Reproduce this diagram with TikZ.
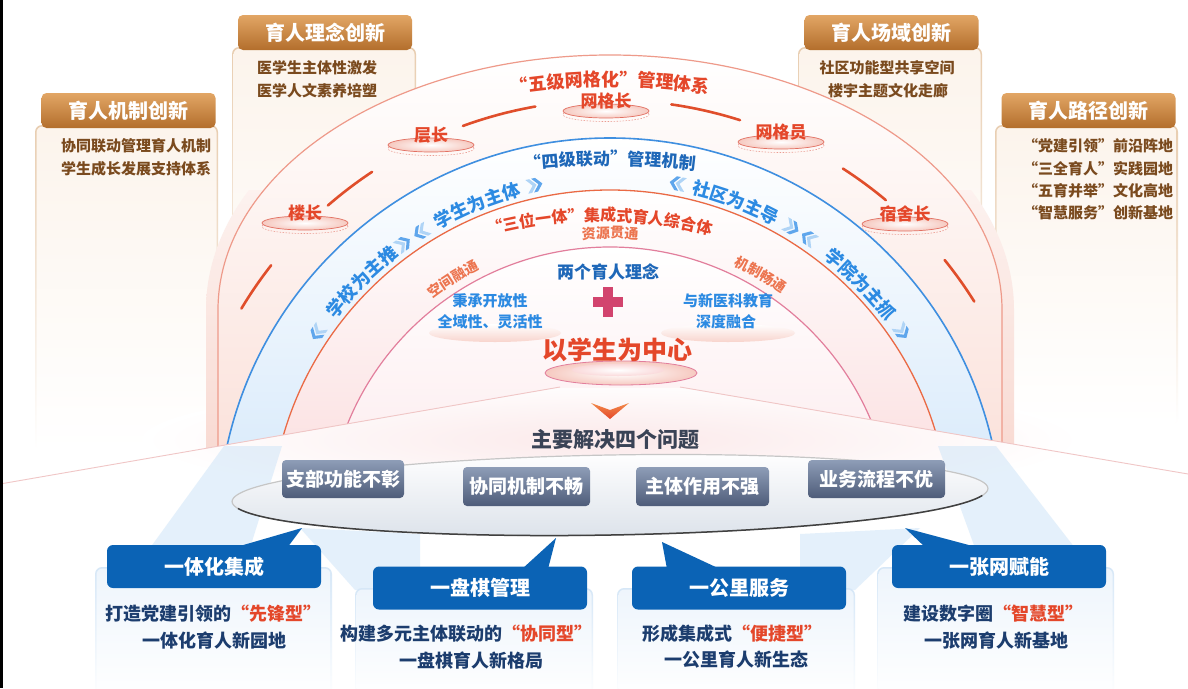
\documentclass[tikz,border=0pt]{standalone}
\usepackage{fontspec}
\setmainfont{Noto Sans CJK SC}
\usetikzlibrary{decorations.text}
\definecolor{brownA}{HTML}{E2A665}
\definecolor{brownB}{HTML}{B36E2C}
\definecolor{brownT}{HTML}{7A4A1E}
\definecolor{cardEdgeB}{HTML}{E8CDB0}
\definecolor{cardFillB}{HTML}{FCF4EC}
\definecolor{redT}{HTML}{E4472A}
\definecolor{orT}{HTML}{EC7550}
\definecolor{blueT}{HTML}{2C8AE2}
\definecolor{blueD}{HTML}{1E67B8}
\definecolor{navyT}{HTML}{1C3D6E}
\definecolor{hdrBlue}{HTML}{0B63B5}
\definecolor{cardEdgeL}{HTML}{D6E7F7}
\definecolor{cardFillL}{HTML}{EEF5FC}
\definecolor{slateA}{HTML}{8E9DB7}
\definecolor{slateB}{HTML}{4E5C79}
\definecolor{crossC}{HTML}{D2446E}
\definecolor{arcRed}{HTML}{EE9A8A}
\definecolor{arcBlue}{HTML}{3F8FE0}
\definecolor{arcOr}{HTML}{EA6A45}
\definecolor{arcMag}{HTML}{E27E9C}
\definecolor{dashC}{HTML}{E04E2B}
\definecolor{darkT}{HTML}{3A4356}
\definecolor{padFill}{HTML}{F6C9C0}
\definecolor{padEdge}{HTML}{E27062}
\definecolor{glowP}{HTML}{F7D3CA}
\definecolor{bandP}{HTML}{FADCD4}
\definecolor{bandB}{HTML}{D3E7FA}
\definecolor{bandR}{HTML}{FAD9DA}
\definecolor{bandI}{HTML}{FCE7EA}
\definecolor{chevC}{HTML}{5FA6EC}
\definecolor{chevL}{HTML}{AFD4F6}
\definecolor{beamC}{HTML}{CFE5F8}
\definecolor{stageP}{HTML}{FBE9EA}
\definecolor{ellB}{HTML}{DCE2EA}
\definecolor{floorC}{HTML}{F0C6C6}
\definecolor{chevA}{HTML}{F28A4A}

\newcommand\semiband[4]{%
  \shade[top color=#3,bottom color=#4,even odd rule]
   (610-#2,-530) arc[start angle=180,end angle=0,radius=#2] -- cycle
   (610-#1,-530) arc[start angle=180,end angle=0,radius=#1] -- cycle;}
\newcommand\arctext[6]{% cx, cy, r, angle, format, text
  \pgfmathsetmacro\myaA{#4+30}%
  \pgfmathsetmacro\myaB{#4-30}%
  \path[decorate,decoration={text along path,text align=center,text={|#5|#6}}]
    ([shift={(#1,#2)}]\myaA:#3) arc[start angle=\myaA,end angle=\myaB,radius=#3];}
\newcommand\topcard[4]{%
  \shade[rounded corners=7pt, top color=cardEdgeB, bottom color=white] (#1,-#2) rectangle (#3,-#4);
  \shade[rounded corners=6pt, top color=cardFillB, bottom color=white] (#1+1.5,-#2-1.5) rectangle (#3-1.5,-#4);}
\newcommand\botcard[4]{%
  \shade[rounded corners=7pt, top color=cardEdgeL, bottom color=white] (#1,-#2) rectangle (#3,-#4);
  \shade[rounded corners=6pt, top color=cardFillL, bottom color=white] (#1+1.5,-#2-1.5) rectangle (#3-1.5,-#4);}
\newcommand\gridpad[4]{% name, x, y, text
  \draw[padEdge!70, line width=0.6pt, dash pattern=on 1.5pt off 1.5pt] (#2,-#3-3.5) ellipse[x radius=43, y radius=7];
  \shade[inner color=white, outer color=padFill, draw=padEdge, line width=0.7pt] (#2,-#3) ellipse[x radius=43, y radius=7];
  \node[F=17, text=redT, inner sep=0pt] (#1) at (#2,-#3+10) {#4};}
\newcommand\chevs[2]{% angle on ring, direction (1 = backward, -1 = forward)
  \begin{scope}[shift={(610,-530)}, rotate=#1, yscale=#2]
    \fill[chevL] (346,-3) -- (353,3) -- (360,-3) -- (360,-7) -- (353,-1) -- (346,-7) -- cycle;
    \fill[chevC] (346,3) -- (353,9) -- (360,3) -- (360,-1) -- (353,5) -- (346,-1) -- cycle;
  \end{scope}}

\begin{document}
\begin{tikzpicture}[x=1pt,y=1pt,
  F/.style={font=\fontsize{#1}{#1}\selectfont\bfseries},
  tabhdr/.style={rounded corners=5pt, top color=brownA, bottom color=brownB, text=white, F=20, minimum width=174pt, minimum height=35pt, inner sep=0pt},
  cardtxt/.style={F=15, text=brownT, inner sep=0pt},
  hdrbox/.style={rounded corners=6pt, fill=hdrBlue, text=white, F=20, minimum width=214pt, minimum height=43pt, inner sep=0pt},
  probbox/.style={rounded corners=4pt, top color=slateA, bottom color=slateB, text=white, F=19, inner sep=0pt},
  btxt/.style={F=18, text=navyT, inner sep=0pt},
  dashseg/.style={dashC, line width=2.6pt, line cap=round},
  beam/.style={fill=beamC, fill opacity=0.55, draw=none},
]
\fill[white] (0,0) rectangle (1188,-688);
\useasboundingbox (0,0) rectangle (1188,-688);

% top cards
\topcard{232}{47}{416}{400}
\topcard{35}{125}{218}{450}
\topcard{798}{47}{982}{400}
\topcard{995}{125}{1178}{425}

% stage glow
\shade[inner color=stageP, outer color=white] (612,-440) ellipse[x radius=470, y radius=60];

% light beams below the arches
\fill[beam] (224,-446) -- (282,-446) -- (250,-548) -- (150,-548) -- cycle;
\fill[beam] (300,-528) -- (420,-534) -- (420,-590) -- (355,-590) -- cycle;
\fill[beam] (938,-446) -- (996,-446) -- (1075,-548) -- (975,-548) -- cycle;
\fill[beam] (800,-534) -- (920,-528) -- (855,-590) -- (800,-590) -- cycle;

% arches
\begin{scope}
\clip (0,0) -- (1188,0) -- (1188,-474) -- (680,-387) -- (560,-387) -- (0,-484) -- cycle;
\begin{scope}
\clip (0,-190) rectangle (1188,-530);
\shade[top color=white,bottom color=glowP] (206,-530) -- (206,-310) arc[start angle=180,end angle=0,x radius=404,y radius=267] -- (1014,-530) -- cycle;
\end{scope}
\shade[top color=white,bottom color=bandP] (218,-530) -- (218,-310) arc[start angle=180,end angle=0,x radius=392,y radius=255] -- (1002,-530) -- cycle;
\semiband{340}{392}{white}{bandB}
\semiband{283}{340}{white}{bandR}
\shade[top color=white,bottom color=bandI] (327,-530) arc[start angle=180,end angle=0,radius=283] -- cycle;
\draw[arcRed,line width=1.2pt] (218,-530) -- (218,-310) arc[start angle=180,end angle=0,x radius=392,y radius=255] -- (1002,-530);
\draw[arcBlue,line width=1.6pt] (218,-530) arc[start angle=180,end angle=0,radius=392];
\draw[arcOr,line width=1.3pt] (270,-530) arc[start angle=180,end angle=0,radius=340];
\draw[arcMag,line width=1.2pt] (327,-530) arc[start angle=180,end angle=0,radius=283];
\end{scope}

% floor lines
\draw[floorC, line width=0.9pt] (0,-484) -- (560,-387);
\draw[floorC, line width=0.9pt] (680,-387) -- (1188,-474);

% five-level grid ring
\foreach \a/\b in {149/142, 131/123.6, 110/100, 81.8/72.4, 57.2/50.1, 38.9/32.1}
  \draw[dashseg] ([shift={(610,-530)}]\a:430) arc[start angle=\a,end angle=\b,radius=430];
\gridpad{louzhang}{305}{223}{楼长}
\gridpad{cengzhang}{431}{145}{层长}
\gridpad{wangge}{606}{111}{网格长}
\gridpad{wanggeyuan}{781}{142}{网格员}
\gridpad{sushe}{905}{224}{宿舍长}
\arctext{610}{-686}{600}{90}{\fontsize{18}{18}\selectfont\bfseries\color{redT}}{“五级网格化”管理体系}

% four-level ring
\arctext{610}{-865}{700}{90}{\fontsize{17}{17}\selectfont\bfseries\color{blueD}}{“四级联动”管理机制}
\arctext{610}{-530}{346}{135}{\fontsize{18}{18}\selectfont\bfseries\color{blueT}}{学校为主推}
\arctext{610}{-530}{346}{112.2}{\fontsize{18}{18}\selectfont\bfseries\color{blueT}}{学生为主体}
\arctext{610}{-530}{346}{69}{\fontsize{18}{18}\selectfont\bfseries\color{blueT}}{社区为主导}
\arctext{610}{-530}{346}{44.4}{\fontsize{18}{18}\selectfont\bfseries\color{blueT}}{学院为主抓}
\chevs{145.8}{1}
\chevs{126}{-1}
\chevs{122.2}{1}
\chevs{102.5}{-1}
\chevs{78.8}{1}
\chevs{59.2}{-1}
\chevs{55.6}{1}
\chevs{34.4}{-1}

% three-in-one ring
\arctext{600}{-641}{420}{90}{\fontsize{16}{16}\selectfont\bfseries\color{redT}}{“三位一体”集成式育人综合体}
\arctext{610}{-530}{292}{90}{\fontsize{14}{14}\selectfont\bfseries\color{orT}}{资源贯通}
\arctext{610}{-530}{292}{122}{\fontsize{14}{14}\selectfont\bfseries\color{orT}}{空间融通}
\arctext{610}{-530}{292}{59.5}{\fontsize{14}{14}\selectfont\bfseries\color{orT}}{机制畅通}

% inner core
\shade[top color=white, bottom color=padFill!80] (495,-333) ellipse[x radius=66, y radius=9];
\shade[top color=white, bottom color=padFill!80] (728,-333) ellipse[x radius=67, y radius=9];
\node[F=17, text=blueD, inner sep=0pt] (two) at (608,-272) {两个育人理念};
\fill[crossC] (593,-297) rectangle (623,-307);
\fill[crossC] (603,-287) rectangle (613,-317);
\node[F=15, text=blueT, inner sep=0pt] (l1) at (490,-301) {秉承开放性};
\node[F=15, text=blueT, inner sep=0pt] (l2) at (490,-322) {全域性、灵活性};
\node[F=15, text=blueT, inner sep=0pt] (r1) at (728,-301) {与新医科教育};
\node[F=15, text=blueT, inner sep=0pt] (r2) at (726,-322) {深度融合};
\shade[inner color=white, outer color=padFill, draw=arcMag, line width=0.8pt] (621,-373) ellipse[x radius=76, y radius=12];
\shade[inner color=white, outer color=bandR] (618,-370) ellipse[x radius=46, y radius=6];
\node[F=25, text=redT, inner sep=0pt] (ctr) at (617,-350) {以学生为中心};

% arrow and title
\shade[top color=chevA, bottom color=redT] (591,-403) -- (610,-410) -- (629,-403) -- (610,-419) -- cycle;
\node[F=21, text=darkT, inner sep=0pt] (ques) at (615,-440) {主要解决四个问题};

% ellipse platform
\begin{scope}[rotate around={1:(610,-495)}]
\shade[top color=white, bottom color=ellB] (610,-495) ellipse[x radius=378, y radius=40];
\draw[gray!45, line width=1.2pt] (610,-495) ellipse[x radius=378, y radius=40];
\draw[black!75, line width=1.5pt] ([shift={(610,-495)}]190:378 and 40) arc[start angle=190,end angle=350,x radius=378,y radius=40];
\end{scope}
\node[probbox, minimum width=122pt, minimum height=38pt] (p1) at (343,-479) {支部功能不彰};
\node[probbox, minimum width=127pt, minimum height=39pt] (p2) at (526.5,-486.5) {协同机制不畅};
\node[probbox, minimum width=133pt, minimum height=39pt] (p3) at (702.5,-486.5) {主体作用不强};
\node[probbox, minimum width=137pt, minimum height=38pt] (p4) at (876.5,-479) {业务流程不优};

% bottom cards
\botcard{95}{567}{332}{700}
\botcard{355}{588}{593}{700}
\botcard{617}{588}{855}{700}
\botcard{877}{567}{1114}{700}
\fill[hdrBlue] (233,-548) -- (302,-528) -- (287,-548) -- cycle;
\fill[hdrBlue] (522,-569) -- (556,-538) -- (548,-569) -- cycle;
\fill[hdrBlue] (667,-569) -- (662,-542) -- (720,-569) -- cycle;
\fill[hdrBlue] (926,-548) -- (905,-528) -- (980,-548) -- cycle;
\node[hdrbox] (h1) at (214,-566.5) {一体化集成};
\node[hdrbox] (h2) at (480,-588) {一盘棋管理};
\node[hdrbox] (h3) at (739,-588) {一公里服务};
\node[hdrbox] (h4) at (999,-566.5) {一张网赋能};
\node[btxt] (t1a) at (213,-614) {打造党建引领的\textcolor{redT}{“先锋型”}};
\node[btxt] (t1b) at (214,-641) {一体化育人新园地};
\node[btxt] (t2a) at (466,-634) {构建多元主体联动的\textcolor{redT}{“协同型”}};
\node[btxt] (t2b) at (471,-661) {一盘棋育人新格局};
\node[btxt] (t3a) at (732,-634) {形成集成式\textcolor{redT}{“便捷型”}};
\node[btxt] (t3b) at (736,-660) {一公里育人新生态};
\node[btxt] (t4a) at (993,-614) {建设数字圈\textcolor{redT}{“智慧型”}};
\node[btxt] (t4b) at (996,-641) {一张网育人新基地};

% top tabs and texts
\node[tabhdr] (tabA) at (325,-32.5) {育人理念创新};
\node[tabhdr] (tabB) at (128.5,-110.5) {育人机制创新};
\node[tabhdr] (tabC) at (891.5,-32.5) {育人场域创新};
\node[tabhdr] (tabD) at (1088.5,-110.5) {育人路径创新};
\node[cardtxt] (a1) at (317,-68) {医学生主体性激发};
\node[cardtxt] (a2) at (317,-91) {医学人文素养培塑};
\node[cardtxt] (b1) at (136,-146) {协同联动管理育人机制};
\node[cardtxt] (b2) at (136,-169) {学生成长发展支持体系};
\node[cardtxt] (c1) at (887,-68) {社区功能型共享空间};
\node[cardtxt] (c2) at (888,-91) {楼宇主题文化走廊};
\node[cardtxt] (d1) at (1098,-146) {“党建引领”前沿阵地};
\node[cardtxt] (d2) at (1098,-169) {“三全育人”实践园地};
\node[cardtxt] (d3) at (1098,-191) {“五育并举”文化高地};
\node[cardtxt] (d4) at (1098,-213) {“智慧服务”创新基地};

% frame line
\fill[black] (0,0) rectangle (3,-688);
\end{tikzpicture}
\end{document}
